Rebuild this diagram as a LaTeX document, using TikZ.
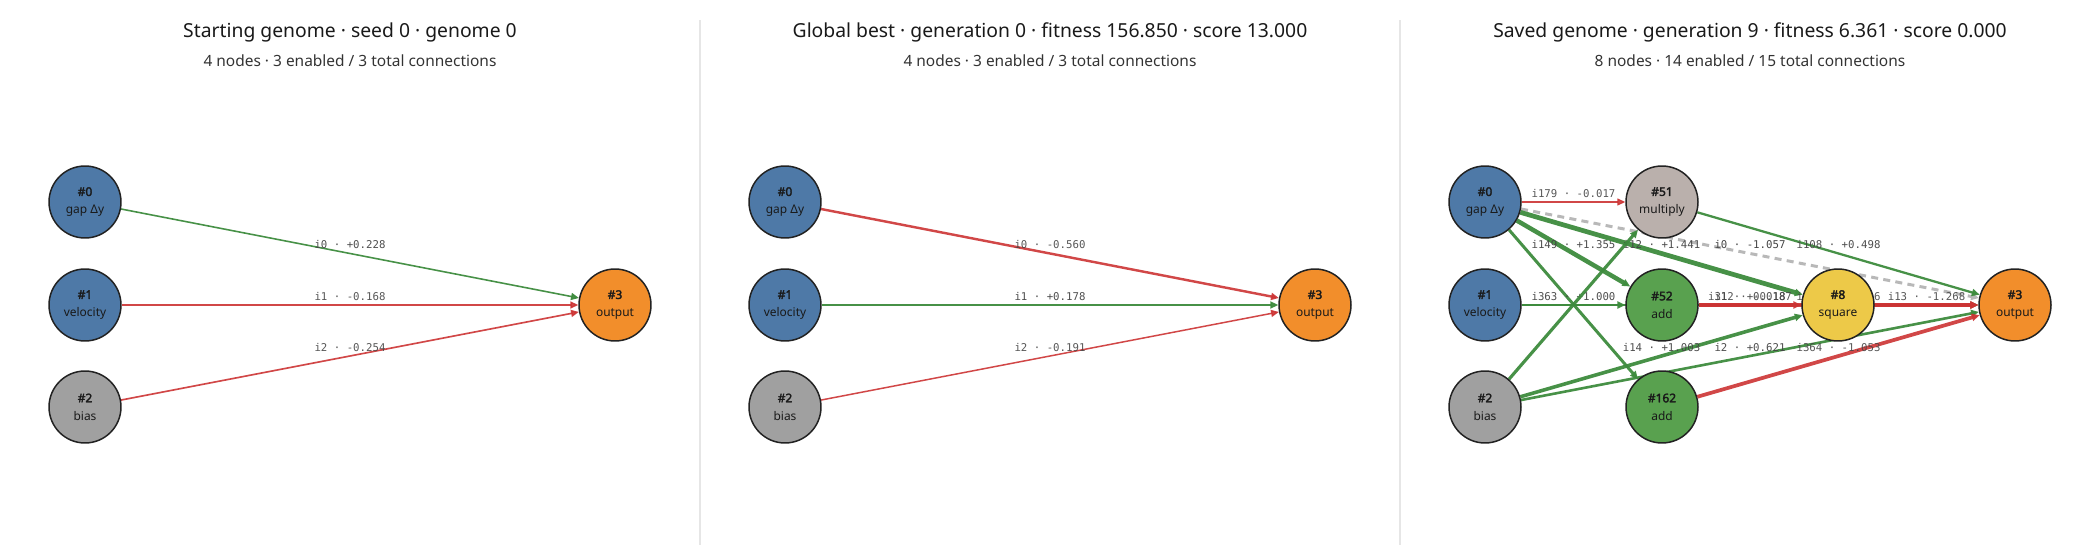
\documentclass[tikz,border=0pt]{standalone}
\usepackage{fontspec}
\setmainfont{Noto Sans}[BoldFont={Noto Sans}, BoldFeatures={FakeBold=2.5}]
\setmonofont{DejaVu Sans Mono}
\usetikzlibrary{arrows.meta,backgrounds}

\definecolor{inblue}{HTML}{4E79A7}
\definecolor{outorange}{HTML}{F28E2B}
\definecolor{biasgrey}{HTML}{A0A0A0}
\definecolor{mulgrey}{HTML}{BAB0AC}
\definecolor{addgreen}{HTML}{59A14F}
\definecolor{sqyellow}{HTML}{EDC948}
\definecolor{posgreen}{HTML}{3D8B3D}
\definecolor{negred}{HTML}{CC3333}
\definecolor{disgrey}{HTML}{B8B8B8}
\definecolor{rimline}{HTML}{222222}
\definecolor{labgrey}{HTML}{444444}
\definecolor{divline}{HTML}{E6E6E6}

\tikzset{
  neuron/.style={circle, draw=rimline, line width=0.85pt, minimum size=1.44cm,
    inner sep=0pt, align=center, text=black!90, font=\fontsize{6.8}{10.2}\selectfont},
  title/.style={font=\fontsize{11}{13}\selectfont, text=black!90},
  subtitle/.style={font=\fontsize{8.8}{10}\selectfont, text=black!80},
  elab/.style={midway, yshift=5pt, font=\ttfamily\fontsize{6.1}{7}\selectfont, text=labgrey},
  tip/.style={-{Triangle[length=4.5pt,width=4pt]}},
  poslink/.style={tip, draw=posgreen, opacity=0.95},
  neglink/.style={tip, draw=negred, opacity=0.9},
  offlink/.style={tip, draw=disgrey, dash pattern=on 4pt off 3pt},
  divider/.style={draw=divline, line width=0.6pt}
}

\begin{document}
\begin{tikzpicture}[x=0.02cm, y=-0.02cm]
\useasboundingbox (0,0) rectangle (2100,560);

\draw[divider] (700,20) -- (700,545);
\draw[divider] (1400,20) -- (1400,545);

% starting genome
\node[title] (t1) at (350,32) {Starting genome · seed 0 · genome 0};
\node[subtitle] (s1) at (350,61) {4 nodes · 3 enabled / 3 total connections};

\node[neuron, fill=inblue] (a0) at (85,202) {\textbf{\#0}\\gap Δy};
\node[neuron, fill=inblue] (a1) at (85,305) {\textbf{\#1}\\velocity};
\node[neuron, fill=biasgrey] (a2) at (85,407) {\textbf{\#2}\\bias};
\node[neuron, fill=outorange] (a3) at (615,305) {\textbf{\#3}\\output};

\begin{scope}[on background layer]
\draw[poslink, line width=0.9pt] (a0) -- node[elab] {i0 · +0.228} (a3);
\draw[neglink, line width=0.82pt] (a1) -- node[elab] {i1 · -0.168} (a3);
\draw[neglink, line width=0.94pt] (a2) -- node[elab] {i2 · -0.254} (a3);
\end{scope}

% global best
\node[title] (t2) at (1050,32) {Global best · generation 0 · fitness 156.850 · score 13.000};
\node[subtitle] (s2) at (1050,61) {4 nodes · 3 enabled / 3 total connections};

\node[neuron, fill=inblue] (b0) at (785,202) {\textbf{\#0}\\gap Δy};
\node[neuron, fill=inblue] (b1) at (785,305) {\textbf{\#1}\\velocity};
\node[neuron, fill=biasgrey] (b2) at (785,407) {\textbf{\#2}\\bias};
\node[neuron, fill=outorange] (b3) at (1315,305) {\textbf{\#3}\\output};

\begin{scope}[on background layer]
\draw[neglink, line width=1.39pt] (b0) -- node[elab] {i0 · -0.560} (b3);
\draw[poslink, line width=0.95pt] (b1) -- node[elab] {i1 · +0.178} (b3);
\draw[neglink, line width=0.85pt] (b2) -- node[elab] {i2 · -0.191} (b3);
\end{scope}

% saved genome
\node[title] (t3) at (1750,32) {Saved genome · generation 9 · fitness 6.361 · score 0.000};
\node[subtitle] (s3) at (1750,61) {8 nodes · 14 enabled / 15 total connections};

\node[neuron, fill=inblue] (c0) at (1485,202) {\textbf{\#0}\\gap Δy};
\node[neuron, fill=inblue] (c1) at (1485,305) {\textbf{\#1}\\velocity};
\node[neuron, fill=biasgrey] (c2) at (1485,407) {\textbf{\#2}\\bias};
\node[neuron, fill=mulgrey] (c51) at (1662,202) {\textbf{\#51}\\multiply};
\node[neuron, fill=addgreen] (c52) at (1662,305) {\textbf{\#52}\\add};
\node[neuron, fill=addgreen] (c162) at (1662,407) {\textbf{\#162}\\add};
\node[neuron, fill=sqyellow] (c8) at (1838,305) {\textbf{\#8}\\square};
\node[neuron, fill=outorange] (c3) at (2015,305) {\textbf{\#3}\\output};

\begin{scope}[on background layer]
\draw[offlink, line width=1.7pt] (c0) -- node[elab] {i0 · -1.057} (c3);
\draw[neglink, line width=0.6pt] (c0) -- node[elab] {i179 · -0.017} (c51);
\draw[poslink, line width=2.56pt] (c0) -- node[elab] {i149 · +1.355} (c52);
\draw[poslink, line width=2.69pt] (c0) -- node[elab] {i12 · +1.441} (c8);
\draw[poslink, line width=1.7pt] (c0) -- (c162);
\draw[poslink, line width=0.6pt] (c1) -- node[elab] {i1 · +0.018} (c3);
\draw[poslink, line width=1.7pt] (c1) -- node[elab] {i363 · +1.000} (c52);
\draw[poslink, line width=1.8pt] (c2) -- (c51);
\draw[poslink, line width=2.04pt] (c2) -- node[elab] {i14 · +1.003} (c8);
\draw[poslink, line width=1.48pt] (c2) -- node[elab] {i2 · +0.621} (c3);
\draw[poslink, line width=1.3pt] (c51) -- node[elab] {i108 · +0.498} (c3);
\draw[neglink, line width=1.8pt] (c52) -- node[elab] {i312 · -0.187} (c8);
\draw[neglink, line width=1.8pt] (c52) -- node[elab] {i313 · -0.006} (c3);
\draw[neglink, line width=2.44pt] (c8) -- node[elab] {i13 · -1.268} (c3);
\draw[neglink, line width=2.12pt] (c162) -- node[elab] {i364 · -1.053} (c3);
\end{scope}
\end{tikzpicture}
\end{document}
